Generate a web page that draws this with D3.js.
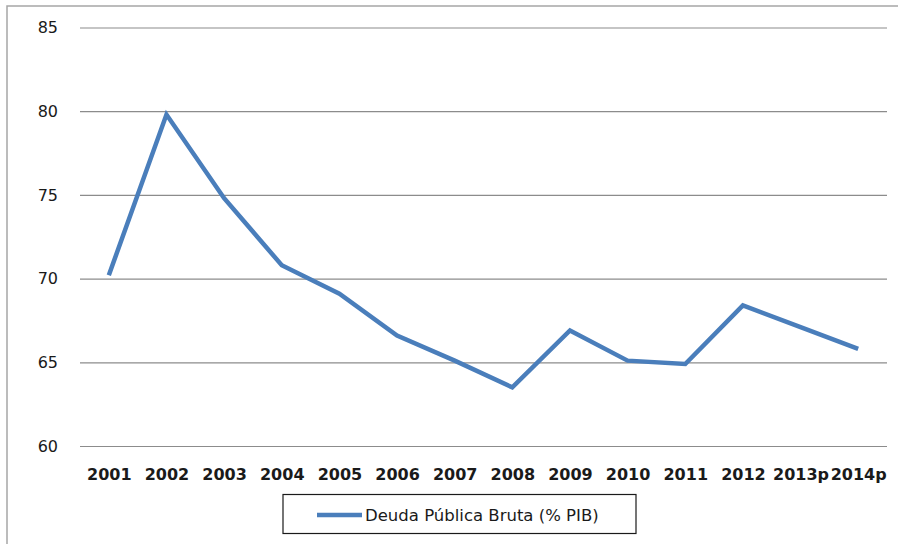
<!DOCTYPE html>
<html>
<head>
    <meta charset="utf-8">
    <title>Deuda Pública Bruta</title>
    <script src="https://d3js.org/d3.v7.min.js"></script>
    <style>
        body { margin: 0; background: #fff; }
        text { font-family: "DejaVu Sans", sans-serif; fill: #1a1a1a; }
    </style>
</head>
<body>
    <script>
        var years = ["2001", "2002", "2003", "2004", "2005", "2006", "2007",
                     "2008", "2009", "2010", "2011", "2012", "2013p", "2014p"];
        var deuda = [70.2, 79.8, 74.8, 70.8, 69.1, 66.6, 65.1,
                     63.5, 66.9, 65.1, 64.9, 68.4, 67.1, 65.8];
        var yTicks = [60, 65, 70, 75, 80, 85];
        var serieName = "Deuda Pública Bruta (% PIB)";

        var width = 898;
        var height = 544;

        var svg = d3.select("body").append("svg")
            .attr("width", width)
            .attr("height", height);

        // chart frame
        svg.append("rect")
            .attr("x", 7)
            .attr("y", 6)
            .attr("width", width + 10)
            .attr("height", height + 10)
            .attr("fill", "none")
            .attr("stroke", "#a6a6a6")
            .attr("stroke-width", 1.5);

        var x = d3.scalePoint()
            .domain(years)
            .range([80, 887])
            .padding(0.5);

        var y = d3.scaleLinear()
            .domain([60, 85])
            .range([446, 27.5]);

        // grid + y labels
        var yAxis = svg.append("g")
            .attr("transform", "translate(80,0)")
            .call(d3.axisLeft(y).tickValues(yTicks).tickSize(-807).tickPadding(22));
        yAxis.select(".domain").remove();
        yAxis.selectAll("line").attr("stroke", "#8c8c8c").attr("stroke-width", 1.2);
        yAxis.selectAll("text")
            .style("font-family", "DejaVu Sans, sans-serif")
            .style("font-size", "16px")
            .attr("fill", "#1a1a1a");

        // x labels
        var xAxis = svg.append("g")
            .attr("transform", "translate(0,446)")
            .call(d3.axisBottom(x).tickSize(0).tickPadding(23));
        xAxis.select(".domain").remove();
        xAxis.selectAll("text")
            .style("font-family", "DejaVu Sans, sans-serif")
            .style("font-size", "16px")
            .style("font-weight", "bold")
            .attr("fill", "#1a1a1a");

        var line = d3.line()
            .x(function(d, i) { return x(years[i]); })
            .y(function(d) { return y(d); });

        svg.append("path")
            .datum(deuda)
            .attr("d", line)
            .attr("fill", "none")
            .attr("stroke", "#4a7ebb")
            .attr("stroke-width", 4.5)
            .attr("stroke-linejoin", "miter");

        // legend
        var legend = svg.append("g");
        legend.append("rect")
            .attr("x", 283)
            .attr("y", 494.5)
            .attr("width", 353)
            .attr("height", 39)
            .attr("fill", "#fff")
            .attr("stroke", "#1a1a1a")
            .attr("stroke-width", 1.2);
        legend.append("line")
            .attr("x1", 317).attr("x2", 362)
            .attr("y1", 515).attr("y2", 515)
            .attr("stroke", "#4a7ebb")
            .attr("stroke-width", 4.5);
        legend.append("text")
            .attr("x", 365)
            .attr("y", 521)
            .style("font-size", "16.5px")
            .text(serieName);
    </script>
</body>
</html>
